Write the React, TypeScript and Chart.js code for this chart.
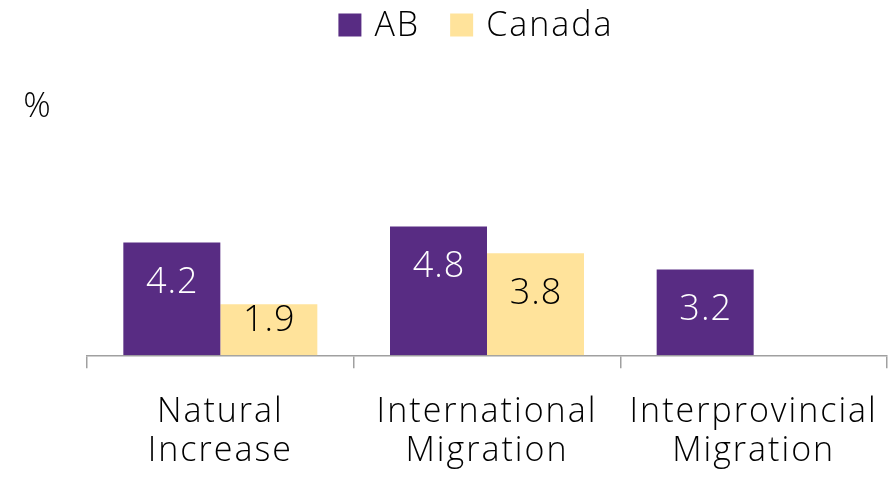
import React, { useEffect, useRef } from "react";
import { Chart, registerables } from "chart.js";

Chart.register(...registerables);

const categories: string[][] = [
  ["Natural", "Increase"],
  ["International", "Migration"],
  ["Interprovincial", "Migration"],
];
const abValues: (number | null)[] = [4.2, 4.8, 3.2];
const canadaValues: (number | null)[] = [1.9, 3.8, null];
const seriesNames = ["AB", "Canada"];
const seriesColors = ["#582C83", "#FFE39B"];
const labelColors = ["#FFFFFF", "#000000"];
const unitLabel = "%";

const FONT = "'Open Sans', 'Segoe UI', sans-serif";

const spacing = {
  id: "spacing",
  beforeDraw(chart: any) {
    (chart.ctx as any).letterSpacing = "2px";
  },
};

const customLegend = {
  id: "customLegend",
  afterDraw(chart: any) {
    const ctx = chart.ctx;
    ctx.save();
    ctx.font = `300 34px ${FONT}`;
    (ctx as any).letterSpacing = "2px";
    ctx.textBaseline = "middle";
    ctx.textAlign = "left";
    const box = 23;
    const gapBoxText = 13;
    const gapItems = 32;
    const items = chart.data.datasets.map((d: any) => ({
      label: d.label,
      color: d.backgroundColor,
      w: ctx.measureText(d.label).width - 2,
    }));
    const total = items.reduce((s: number, it: any, i: number) => s + box + gapBoxText + it.w + (i > 0 ? gapItems : 0), 0);
    let x = 475 - total / 2;
    const cy = 25;
    items.forEach((it: any) => {
      ctx.fillStyle = it.color;
      ctx.fillRect(x, cy - box / 2, box, box);
      x += box + gapBoxText;
      ctx.fillStyle = "#000000";
      ctx.fillText(it.label, x, cy + 1);
      x += it.w + gapItems;
    });
    (ctx as any).letterSpacing = "0px";
    ctx.textAlign = "center";
    ctx.fillText(unitLabel, 37, 107);
    ctx.restore();
  },
};

const barLabels = {
  id: "barLabels",
  afterDatasetsDraw(chart: any) {
    const ctx = chart.ctx;
    ctx.save();
    ctx.font = `300 36px ${FONT}`;
    (ctx as any).letterSpacing = "1px";
    ctx.textAlign = "center";
    ctx.textBaseline = "middle";
    chart.data.datasets.forEach((ds: any, di: number) => {
      const meta = chart.getDatasetMeta(di);
      meta.data.forEach((bar: any, i: number) => {
        const v = ds.data[i];
        if (v === null || v === undefined) return;
        const y = Math.min(bar.y + 40, bar.base - 35);
        ctx.fillStyle = labelColors[di];
        ctx.fillText(v.toFixed(1), bar.x + 0.5, y);
      });
    });
    ctx.restore();
  },
};

export default function App() {
  const ref = useRef<HTMLCanvasElement>(null);
  useEffect(() => {
    if (!ref.current) return;
    const chart = new Chart(ref.current, {
      type: "bar",
      data: {
        labels: categories,
        datasets: [
          { label: seriesNames[0], data: abValues, backgroundColor: seriesColors[0] },
          { label: seriesNames[1], data: canadaValues, backgroundColor: seriesColors[1] },
        ],
      },
      options: {
        responsive: false,
        animation: false,
        layout: { padding: { left: 87, right: 2, top: 87, bottom: -11.5 } },
        plugins: {
          legend: { display: false },
          tooltip: { enabled: false },
        },
        datasets: {
          bar: { categoryPercentage: 0.7275, barPercentage: 1.0 },
        },
        scales: {
          x: {
            grid: {
              offset: true,
              drawOnChartArea: false,
              drawTicks: true,
              tickLength: 13,
              color: "#A0A0A0",
              lineWidth: 1.5,
            },
            border: { display: true, color: "#A0A0A0", width: 1.5 },
            ticks: {
              color: "#000000",
              font: { family: FONT, size: 34, weight: 300, lineHeight: 1.15 },
              padding: 24,
              maxRotation: 0,
              autoSkip: false,
            },
          },
          y: {
            display: false,
            min: 0,
            max: 10,
          },
        },
      },
      plugins: [spacing, customLegend, barLabels],
    });
    return () => chart.destroy();
  }, []);
  return (
    <div style={{ position: "absolute", left: 0, top: 0, width: 889, height: 483, background: "#fff" }}>
      <canvas ref={ref} width={889} height={483} />
    </div>
  );
}
